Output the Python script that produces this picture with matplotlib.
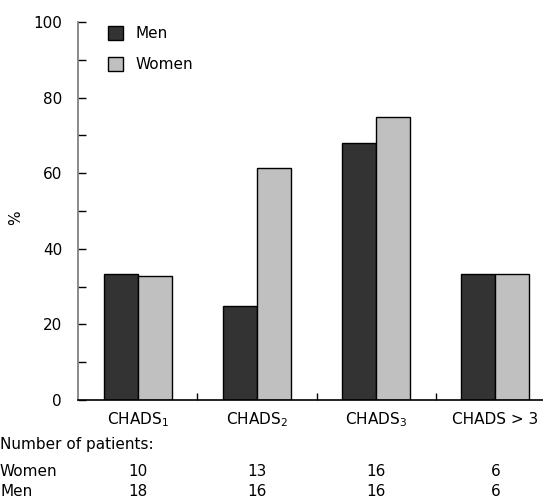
import numpy as np
import matplotlib
matplotlib.use("Agg")
import matplotlib.pyplot as plt
import matplotlib.transforms as mtransforms
from matplotlib.patches import Patch
from matplotlib.ticker import MultipleLocator

plt.rcParams['font.family'] = ['DejaVu Sans']
plt.rcParams['mathtext.default'] = 'regular'

# data
categories = ['CHADS$_1$', 'CHADS$_2$', 'CHADS$_3$', 'CHADS > 3']
men = [33.3, 25.0, 68.0, 33.3]
women = [32.9, 61.5, 75.0, 33.3]
n_women = [10, 13, 16, 6]
n_men = [18, 16, 16, 6]

men_color = '#333333'
women_color = '#c0c0c0'

W, H = 543, 500
fig = plt.figure(figsize=(W / 100, H / 100), dpi=100)
ax = fig.add_axes([78 / W, 1 - 400 / H, (555 - 78) / W, 378 / H])

x = np.arange(len(categories))
width = 0.286
ax.bar(x - width / 2, men, width, color=men_color, edgecolor='black', linewidth=1.0)
ax.bar(x + width / 2, women, width, color=women_color, edgecolor='black', linewidth=1.0)

ax.set_xlim(-0.5, len(categories) - 0.5)
ax.set_ylim(0, 100)
ax.yaxis.set_major_locator(MultipleLocator(20))
ax.yaxis.set_minor_locator(MultipleLocator(10))
ax.tick_params(axis='y', which='both', direction='in', length=5.5, width=1, pad=11.5, labelsize=11)
ax.set_xticks(x[:-1] + 0.5)
ax.set_xticklabels([])
ax.tick_params(axis='x', direction='in', length=5, width=1)

ax.spines['top'].set_visible(False)
ax.spines['right'].set_visible(False)
ax.spines['left'].set_color('#777777')
ax.spines['left'].set_linewidth(1.2)
ax.spines['bottom'].set_linewidth(1.2)

fig.text(16 / W, 1 - 218 / H, '%', rotation=90, ha='center', va='center', fontsize=11)

handles = [Patch(facecolor=men_color, edgecolor='black', label='Men'),
           Patch(facecolor=women_color, edgecolor='black', label='Women')]
fig.legend(handles=handles, loc='upper left', bbox_to_anchor=(108 / W, 1 - 26 / H),
           frameon=False, fontsize=11, handlelength=1.0, handleheight=1.0,
           handletextpad=0.8, labelspacing=1.05, borderpad=0, borderaxespad=0)

# labels below the axis
trans = mtransforms.blended_transform_factory(ax.transData, fig.transFigure)
for i, cat in enumerate(categories):
    ax.text(x[i], 1 - 420 / H, cat, transform=trans, ha='center', va='center', fontsize=11)
    ax.text(x[i], 1 - 471 / H, str(n_women[i]), transform=trans, ha='center', va='center', fontsize=11)
    ax.text(x[i], 1 - 491 / H, str(n_men[i]), transform=trans, ha='center', va='center', fontsize=11)

fig.text(0, 1 - 445 / H, 'Number of patients:', ha='left', va='center', fontsize=11)
fig.text(0, 1 - 471 / H, 'Women', ha='left', va='center', fontsize=11)
fig.text(0, 1 - 491 / H, 'Men', ha='left', va='center', fontsize=11)

fig.savefig('out.png', dpi=100)
